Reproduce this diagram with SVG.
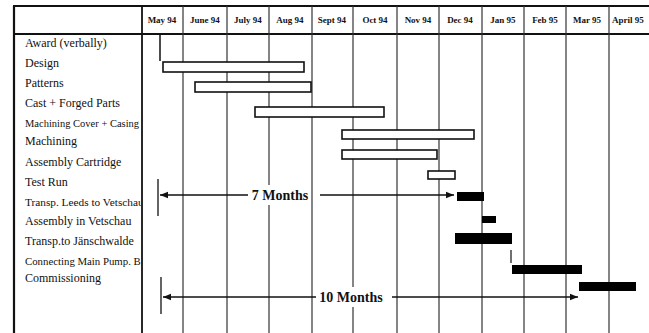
<svg xmlns="http://www.w3.org/2000/svg" width="649" height="333" viewBox="0 0 649 333">
<style>
.frame{stroke:#111;fill:none}
.grid{stroke:#333;stroke-width:1.2;fill:none}
.mon{font-family:"Liberation Serif",serif;font-weight:bold;font-size:9px;fill:#111;text-anchor:middle}
.lbl{font-family:"Liberation Serif",serif;font-size:12px;fill:#111}
.open{fill:#fff;stroke:#111;stroke-width:1.6}
.solid{fill:#000;stroke:none}
.dim{stroke:#111;stroke-width:1.3;fill:none}
.dimtxt{font-family:"Liberation Serif",serif;font-weight:bold;font-size:14px;fill:#111;text-anchor:middle}
.bg{fill:#fff;stroke:none}
</style>
<defs>
<marker id="ah" viewBox="0 0 10 10" refX="10" refY="5" markerWidth="8" markerHeight="8" markerUnits="userSpaceOnUse" orient="auto-start-reverse">
<path d="M0,1 L10,5 L0,9 z" fill="#111"/>
</marker>
<clipPath id="lc"><rect x="14" y="34" width="127" height="299"/></clipPath>
</defs>
<rect width="649" height="333" fill="#fff"/>
<g id="grid">
<line class="frame" x1="13" y1="6" x2="649" y2="6" stroke-width="2"/>
<line class="frame" x1="13" y1="34" x2="649" y2="34" stroke-width="2"/>
<line class="frame" x1="14" y1="6" x2="14" y2="333" stroke-width="2.2"/>
<line class="frame" x1="142" y1="6" x2="142" y2="333" stroke-width="1.8"/>
<line class="grid" x1="183" y1="6" x2="183" y2="333"/>
<line class="grid" x1="227" y1="6" x2="227" y2="333"/>
<line class="grid" x1="269" y1="6" x2="269" y2="333"/>
<line class="grid" x1="312" y1="6" x2="312" y2="333"/>
<line class="grid" x1="353" y1="6" x2="353" y2="333"/>
<line class="grid" x1="397" y1="6" x2="397" y2="333"/>
<line class="grid" x1="439" y1="6" x2="439" y2="333"/>
<line class="grid" x1="482" y1="6" x2="482" y2="333"/>
<line class="grid" x1="524" y1="6" x2="524" y2="333"/>
<line class="grid" x1="566" y1="6" x2="566" y2="333"/>
<line class="grid" x1="609" y1="6" x2="609" y2="333"/>
</g>
<g id="months">
<text class="mon" x="162" y="23">May 94</text>
<text class="mon" x="205" y="23">June 94</text>
<text class="mon" x="248" y="23">July 94</text>
<text class="mon" x="290" y="23">Aug 94</text>
<text class="mon" x="332" y="23">Sept 94</text>
<text class="mon" x="375" y="23">Oct 94</text>
<text class="mon" x="418" y="23">Nov 94</text>
<text class="mon" x="460" y="23">Dec 94</text>
<text class="mon" x="503" y="23">Jan 95</text>
<text class="mon" x="545" y="23">Feb 95</text>
<text class="mon" x="587" y="23">Mar 95</text>
<text class="mon" x="628" y="23">April 95</text>
</g>
<g id="labels" clip-path="url(#lc)">
<text class="lbl" x="25" y="47">Award (verbally)</text>
<text class="lbl" x="25" y="67">Design</text>
<text class="lbl" x="25" y="87">Patterns</text>
<text class="lbl" x="25" y="107">Cast + Forged Parts</text>
<text class="lbl" x="25" y="127" style="font-size:10.5px">Machining Cover + Casing</text>
<text class="lbl" x="25" y="145">Machining</text>
<text class="lbl" x="25" y="166">Assembly Cartridge</text>
<text class="lbl" x="25" y="186">Test Run</text>
<text class="lbl" x="25" y="206" style="font-size:11.3px">Transp. Leeds to Vetschau</text>
<text class="lbl" x="25" y="225">Assembly in Vetschau</text>
<text class="lbl" x="25" y="245">Transp.to Jänschwalde</text>
<text class="lbl" x="25" y="265" style="font-size:10.8px">Connecting Main Pump. B1</text>
<text class="lbl" x="25" y="282">Commissioning</text>
</g>
<g id="bars">
<line id="award" class="frame" x1="160" y1="34" x2="160" y2="61" stroke-width="1.5"/>
<rect id="design" class="open" x="163" y="62" width="141" height="10"/>
<rect id="patterns" class="open" x="195" y="82" width="116" height="10"/>
<rect id="cast" class="open" x="255" y="107" width="129" height="10"/>
<rect id="machcover" class="open" x="342" y="130" width="132" height="9"/>
<rect id="machining" class="open" x="342" y="150" width="95" height="9"/>
<rect id="testrun" class="open" x="428" y="171" width="27" height="8"/>
<rect id="transpleeds" class="solid" x="457" y="192" width="27" height="9"/>
<rect id="assembly" class="solid" x="482" y="216" width="14" height="7"/>
<rect id="transpj" class="solid" x="455" y="233" width="57" height="11"/>
<line class="frame" x1="511" y1="250" x2="511" y2="263" stroke-width="1.2"/>
<rect id="connecting" class="solid" x="512" y="265" width="70" height="9"/>
<rect id="commissioning" class="solid" x="579" y="282" width="57" height="9"/>
</g>
<g id="connectors">
<line class="dim" x1="158" y1="179" x2="158" y2="216" stroke-width="1.6"/>
<line class="dim" x1="248" y1="195" x2="160" y2="195" marker-end="url(#ah)"/>
<line class="dim" x1="320" y1="195" x2="454" y2="195" marker-end="url(#ah)"/>
<rect class="bg" x="249" y="185" width="62" height="20"/>
<text class="dimtxt" x="280" y="200">7 Months</text>
<line class="dim" x1="161" y1="277" x2="161" y2="314" stroke-width="1.6"/>
<line class="dim" x1="316" y1="297" x2="163" y2="297" marker-end="url(#ah)"/>
<line class="dim" x1="392" y1="297" x2="578" y2="297" marker-end="url(#ah)"/>
<rect class="bg" x="316" y="287" width="72" height="20"/>
<text class="dimtxt" x="351" y="302">10 Months</text>
</g>
</svg>
